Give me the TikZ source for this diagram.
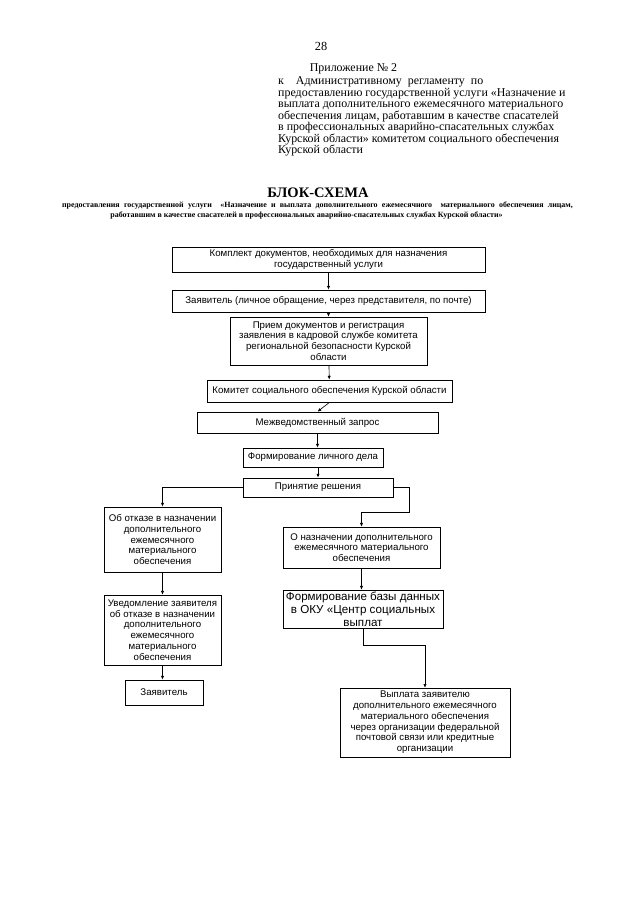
\documentclass[tikz,border=0pt]{standalone}
\usepackage{fontspec}
\setmainfont{Liberation Serif}
\setsansfont{Liberation Sans}
\usetikzlibrary{arrows.meta}

\tikzset{
  blok/.style={draw, line width=0.6pt, inner sep=1pt, align=center,
    font=\sffamily\fontsize{9}{10}\selectfont},
  strelka/.style={-{Latex[length=3.5pt,width=3pt]}, line width=0.6pt},
}

\begin{document}
\begin{tikzpicture}[x=0.93pt,y=-0.93pt]
\useasboundingbox (0,0) rectangle (640,905);

% шапка
\node[font=\fontsize{11.5}{13}\selectfont, anchor=base] (nomer) at (321,50) {28};
\node[font=\fontsize{11.1}{13}\selectfont, anchor=base west] (prilozh) at (306,71) {Приложение № 2};
\node[font={\fontsize{11.1}{10.7}\selectfont\lineskiplimit=-5pt\relax}, anchor=north west, align=left, inner sep=0pt] (reglament) at (278,76.5)
  {к\quad Административному\ \ регламенту\ \ по\\
   предоставлению государственной услуги «Назначение и\\
   выплата дополнительного ежемесячного материального\\
   обеспечения лицам, работавшим в качестве спасателей\\
   в профессиональных аварийно-спасательных службах\\
   Курской области» комитетом социального обеспечения\\
   Курской области};

\node[font=\bfseries\fontsize{13.5}{15}\selectfont] (zagolovok) at (318,193) {БЛОК-СХЕМА};
\node[font=\bfseries\fontsize{7.4}{8}\selectfont] (podzag1) at (317.5,206)
  {\makebox[475pt][s]{предоставления государственной услуги\ \ «Назначение и выплата дополнительного ежемесячного\ \ материального обеспечения лицам,}};
\node[font=\bfseries\fontsize{7.4}{8}\selectfont] (podzag2) at (306.5,215.5)
  {работавшим в качестве спасателей в профессиональных аварийно-спасательных службах Курской области»};

% блоки
\node[blok, minimum width=291pt, minimum height=23.3pt] (komplekt) at (328.5,259.5)
  {Комплект документов, необходимых для назначения\\государственный услуги};
\node[blok, minimum width=291pt, minimum height=20.5pt] (zayavitel) at (328.5,301)
  {Заявитель (личное обращение, через представителя, по почте)};
\node[blok, minimum width=183pt, minimum height=44.6pt] (priem) at (328.5,341)
  {Прием документов и регистрация\\заявления в кадровой службе комитета\\региональной безопасности Курской\\области};
\node[blok, minimum width=228pt, minimum height=20.5pt] (komitet) at (329.5,391)
  {Комитет социального обеспечения Курской области};
\node[blok, minimum width=224pt, minimum height=19.5pt] (zapros) at (317.5,422.5)
  {Межведомственный запрос};
\node[blok, minimum width=130pt, minimum height=17.7pt] (delo) at (313,457.5)
  {Формирование личного дела};
\node[blok, minimum width=139.5pt, minimum height=17.7pt] (reshenie) at (318,487.5)
  {Принятие решения};

\node[blok, minimum width=109pt, minimum height=60.5pt] (otkaz) at (162.5,539.5)
  {Об отказе в назначении\\дополнительного\\ежемесячного\\материального\\обеспечения};
\node[blok, minimum width=109pt, minimum height=65pt] (uvedom) at (162.5,630)
  {Уведомление заявителя\\об отказе в назначении\\дополнительного\\ежемесячного\\материального\\обеспечения};
\node[blok, minimum width=72.5pt, minimum height=23.3pt] (zayav) at (164,692.5)
  {Заявитель};

\node[blok, minimum width=146pt, minimum height=38pt] (naznach) at (361.5,547.5)
  {О назначении дополнительного\\ежемесячного материального\\обеспечения};
\node[blok, minimum width=149pt, minimum height=35.3pt,
  font=\sffamily\fontsize{10.8}{12}\selectfont] (baza) at (363,609)
  {Формирование базы данных\\в ОКУ «Центр социальных\\выплат};
\node[blok, minimum width=158pt, minimum height=64pt] (vyplata) at (425,722.5)
  {Выплата заявителю\\дополнительного ежемесячного\\материального обеспечения\\через организации федеральной\\почтовой связи или кредитные\\организации};

% стрелки
\draw[strelka] (komplekt) -- (zayavitel);
\draw[strelka] (zayavitel) -- (priem);
\draw[strelka] (priem) -- (komitet);
\draw[strelka] (komitet.south) -- (zapros.north);
\draw[strelka] (zapros.south) -- (zapros.south |- delo.north);
\draw[strelka] (delo.south -| reshenie.north) -- (reshenie.north);
\draw[strelka] (reshenie.west) -| (otkaz.north);
\draw[strelka] (otkaz) -- (uvedom);
\draw[strelka] (uvedom.south) -- (uvedom.south |- zayav.north);
\draw[strelka] (reshenie.east) -- ++(16,0) -- ++(0,25) -| (naznach.north);
\draw[strelka] (naznach.south) -- (naznach.south |- baza.north);
\draw[strelka] (baza.south) -- ++(0,17) -| (vyplata.north);
\end{tikzpicture}
\end{document}
